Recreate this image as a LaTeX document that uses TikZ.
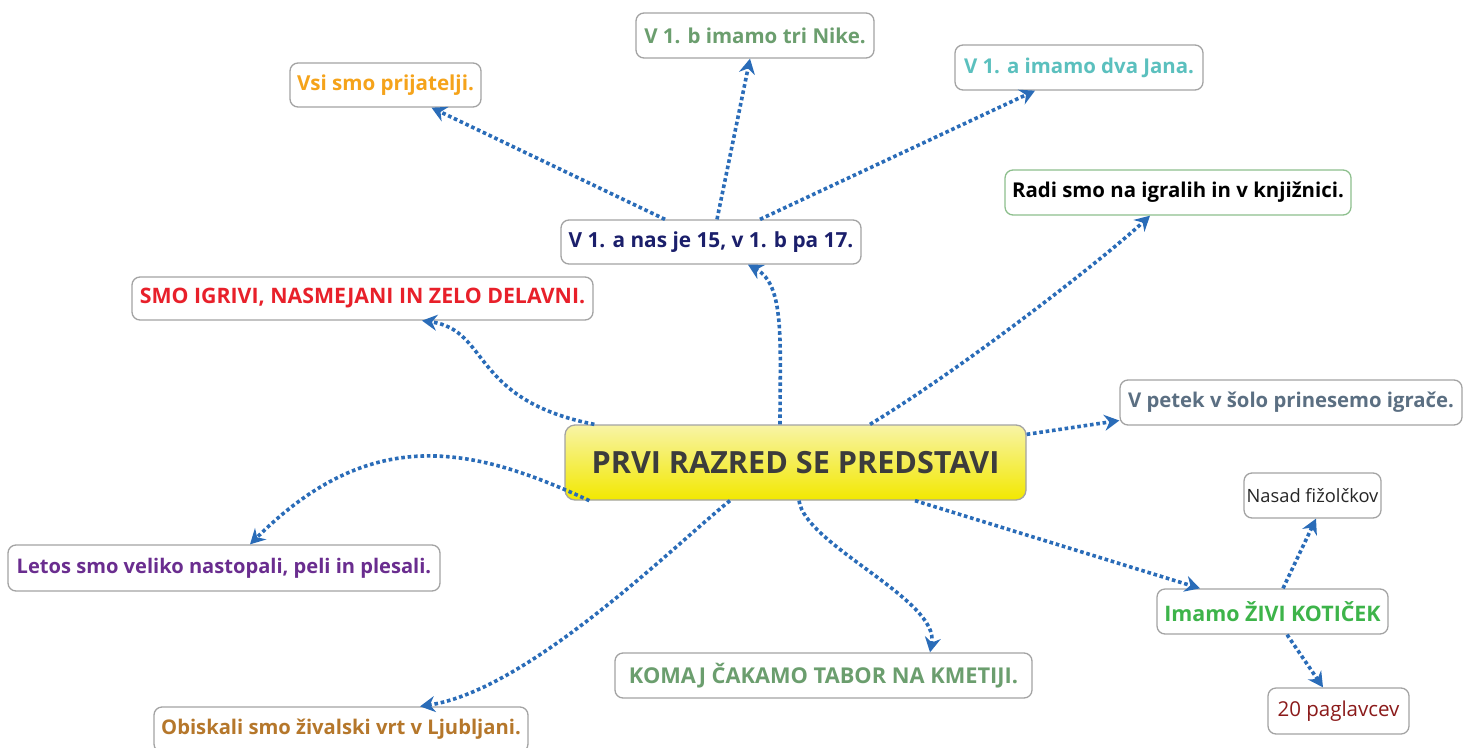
\documentclass[tikz,border=0pt]{standalone}
\usepackage{fontspec}
\setmainfont{Open Sans}
\usetikzlibrary{arrows.meta}
\definecolor{linkblue}{HTML}{2A6CB8}
\definecolor{boxgray}{HTML}{A3A3A3}
\definecolor{cOrange}{HTML}{F5A31A}
\definecolor{cSage}{HTML}{6B9E6E}
\definecolor{cTeal}{HTML}{5BC0BE}
\definecolor{cNavy}{HTML}{1B1F6B}
\definecolor{cRed}{HTML}{E8202A}
\definecolor{cSlate}{HTML}{5B6F82}
\definecolor{cDark}{HTML}{3C3C3C}
\definecolor{cInk}{HTML}{262626}
\definecolor{cPurple}{HTML}{6A2D8F}
\definecolor{cGreen}{HTML}{3DB44A}
\definecolor{cMaroon}{HTML}{8B1A1A}
\definecolor{cBrown}{HTML}{B5772B}
\definecolor{cBorderGreen}{HTML}{8DBF8D}
\definecolor{yTop}{HTML}{F8F4A6}
\definecolor{yBot}{HTML}{F2E800}
\tikzset{
  idea/.style={draw=boxgray, line width=1.3pt, rounded corners=8pt, fill=white,
    inner sep=0pt, align=center, font=\bfseries\fontsize{#1}{24}\selectfont},
  idea/.default=20.4,
  plainidea/.style={idea, font=\mdseries\fontsize{#1}{24}\selectfont},
  root/.style={draw=boxgray, line width=1.3pt, rounded corners=10pt,
    top color=yTop, bottom color=yBot, inner sep=0pt, text=cDark,
    font=\bfseries\fontsize{30.6}{36}\selectfont},
  link/.style={draw=linkblue, line width=3.6pt, dash pattern=on 3.6pt off 2.8pt,
    -{Stealth[length=15pt,width=16pt,inset=5pt]}},
}
\begin{document}
\begin{tikzpicture}[x=1pt,y=-1pt]
\useasboundingbox (0,0) rectangle (1464,747);
% nodes
\node[root, minimum width=461pt, minimum height=75pt] (c) at (795.5,462.5) {PRVI RAZRED SE PREDSTAVI};
\node[idea=20.6, text=cOrange, minimum width=191pt, minimum height=44pt] (vsi) at (385.5,85) {Vsi smo prijatelji.};
\node[idea=20.5, text=cSage, minimum width=238pt, minimum height=45pt] (nike) at (755,35.5) {V 1. b imamo tri Nike.};
\node[idea=20.4, text=cTeal, minimum width=248pt, minimum height=45pt] (jana) at (1079,67.5) {V 1. a imamo dva Jana.};
\node[idea=20.4, draw=cBorderGreen, text=black, minimum width=346pt, minimum height=45pt] (radi) at (1178,192.5) {Radi smo na igralih in v knjižnici.};
\node[idea=20.8, text=cNavy, minimum width=300pt, minimum height=44pt] (nas) at (711,242) {V 1. a nas je 15, v 1. b pa 17.};
\node[idea=21.3, text=cRed, minimum width=461pt, minimum height=43pt] (smo) at (362.5,298.5) {SMO IGRIVI, NASMEJANI IN ZELO DELAVNI.};
\node[idea=20.3, text=cSlate, minimum width=342pt, minimum height=45pt] (petek) at (1291,402.5) {V petek v šolo prinesemo igrače.};
\node[plainidea=18.3, text=cInk, minimum width=137pt, minimum height=45pt] (nasad) at (1312.5,495.5) {Nasad fižolčkov};
\node[idea=20.1, text=cPurple, minimum width=432pt, minimum height=46pt] (letos) at (224,568) {Letos smo veliko nastopali, peli in plesali.};
\node[idea=21.4, text=cGreen, minimum width=231pt, minimum height=45pt] (imamo) at (1272.5,611.5) {Imamo ŽIVI KOTIČEK};
\node[idea=21.8, text=cSage, minimum width=417pt, minimum height=45pt] (komaj) at (823.5,675.5) {KOMAJ ČAKAMO TABOR NA KMETIJI.};
\node[plainidea=20.5, text=cMaroon, minimum width=141pt, minimum height=46pt] (pagl) at (1338.5,711) {20 paglavcev};
\node[idea=20.2, text=cBrown, minimum width=374pt, minimum height=45pt] (obisk) at (341,729.5) {Obiskali smo živalski vrt v Ljubljani.};
% connectors
\draw[link] ([xshift=30pt]c.north west) .. controls (470,400) and (490,330) .. ([xshift=59.5pt]smo.south);
\draw[link] ([xshift=-15.5pt]c.north) .. controls (780,340) and (785,285) .. ([xshift=37pt]nas.south);
\draw[link] ([xshift=-46pt]nas.north) -- ([xshift=46pt]vsi.south);
\draw[link] ([xshift=6pt]nas.north) -- ([xshift=-5pt]nike.south);
\draw[link] ([xshift=49pt]nas.north) -- ([xshift=-44pt]jana.south);
\draw[link] ([xshift=74.5pt]c.north) .. controls (960,370) and (1100,262) .. ([xshift=-28pt]radi.south);
\draw[link] ([yshift=-10pt]c.north east) -- ([yshift=-18pt]petek.west);
\draw[link] ([xshift=119.5pt]c.south) -- ([xshift=-72.5pt]imamo.north);
\draw[link] ([xshift=10.5pt]imamo.north) -- ([xshift=3.5pt]nasad.south);
\draw[link] ([xshift=14.5pt]imamo.south) -- ([xshift=-15.5pt]pagl.north);
\draw[link] ([xshift=25pt]c.south west) .. controls (470,445) and (370,425) .. ([xshift=26pt]letos.north);
\draw[link] ([xshift=-65.5pt]c.south) .. controls (680,540) and (530,690) .. ([xshift=79pt]obisk.north);
\draw[link] ([xshift=3.5pt]c.south) .. controls (805,545) and (940,600) .. ([xshift=106.5pt]komaj.north);
\end{tikzpicture}
\end{document}
